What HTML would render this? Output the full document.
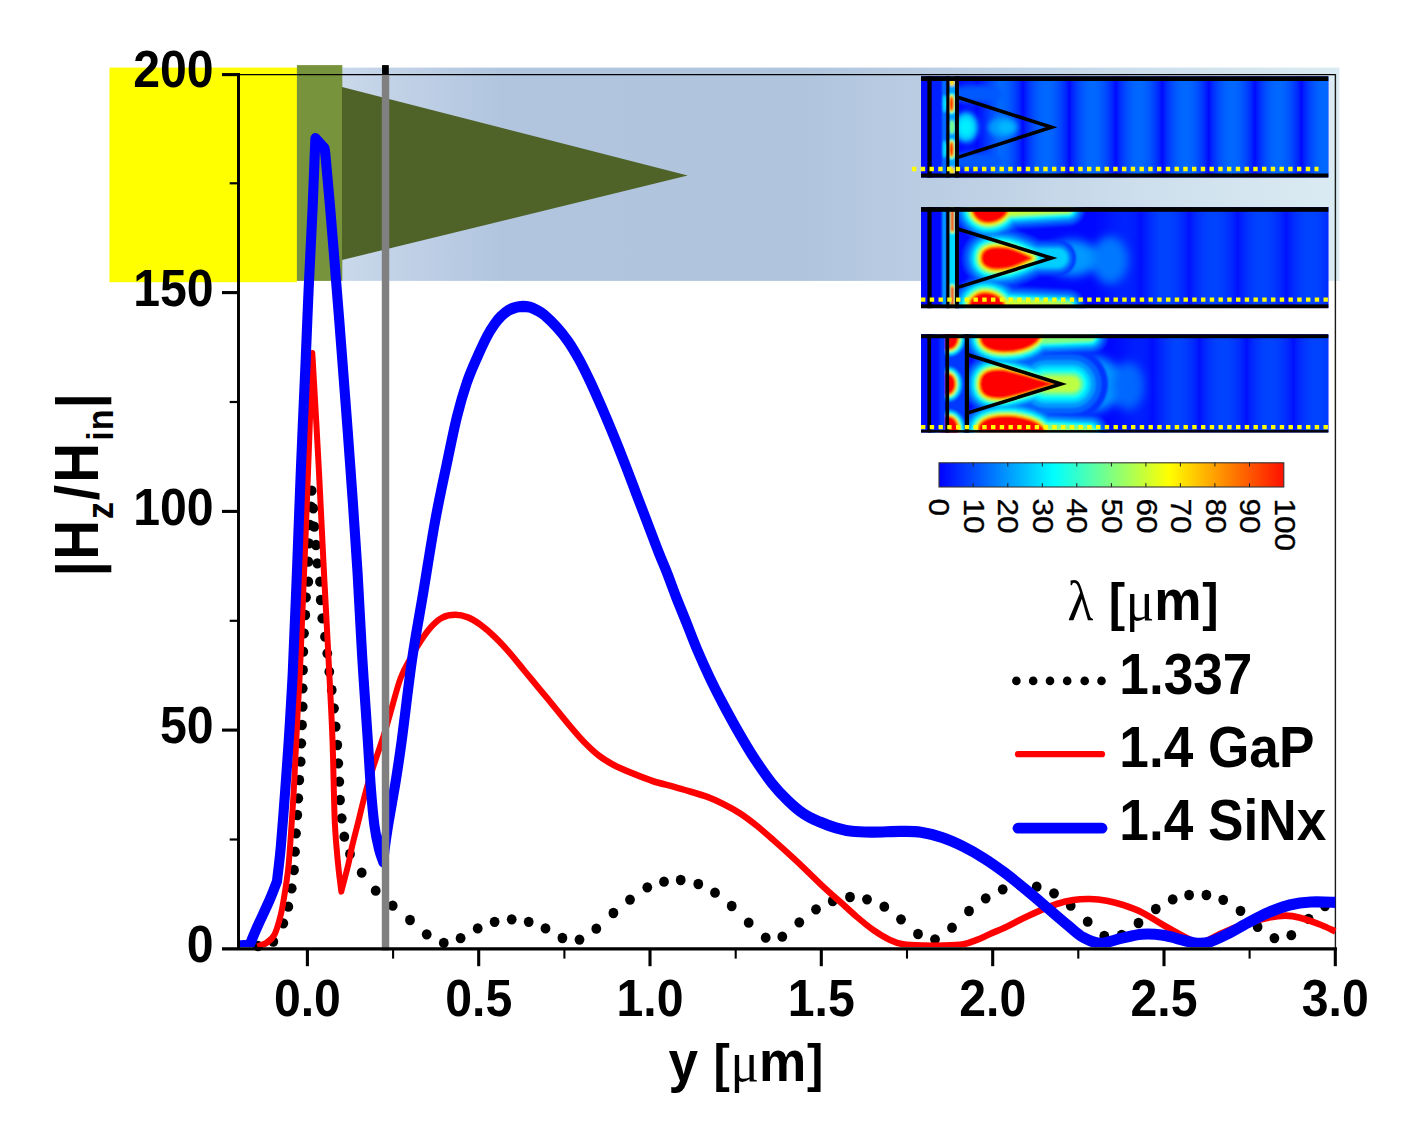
<!DOCTYPE html><html><head><meta charset="utf-8"><title>chart</title><style>
html,body{margin:0;padding:0;background:#fff}
svg{display:block}
text{font-family:"Liberation Sans",sans-serif;font-weight:bold;fill:#000}
.sym{font-family:"Liberation Serif",serif;font-weight:normal}
.cb{font-weight:normal;font-size:29px}
</style></head><body>
<svg width="1425" height="1125" viewBox="0 0 1425 1125">
<rect width="1425" height="1125" fill="#fff"/>
<defs>
<linearGradient id="bg" gradientUnits="userSpaceOnUse" x1="343" x2="1339.5"><stop offset="0" stop-color="#c9d8ea"/><stop offset="0.07" stop-color="#bfd0e6"/><stop offset="0.16" stop-color="#b1c5df"/><stop offset="0.46" stop-color="#b0c4de"/><stop offset="0.62" stop-color="#bccfe4"/><stop offset="0.8" stop-color="#cddfec"/><stop offset="1" stop-color="#dbebf3"/></linearGradient>
<linearGradient id="jet" x1="0" x2="1" y1="0" y2="0"><stop offset="0" stop-color="#0000ff"/><stop offset="0.333" stop-color="#00ffff"/><stop offset="0.5" stop-color="#80ff80"/><stop offset="0.667" stop-color="#ffff00"/><stop offset="1" stop-color="#ff1000"/></linearGradient>
</defs>
<rect x="109.5" y="67.6" width="187.5" height="214.6" fill="#ffff00"/>
<rect x="342" y="67.6" width="997.5" height="213.3" fill="url(#bg)"/>
<rect x="296.9" y="65.1" width="45.4" height="215.8" fill="#77933c"/>
<path d="M342 87L687.7 175.6L342 260Z" fill="#4f6228"/>
<path d="M238 74.5H1336" stroke="#000" stroke-width="1.25" fill="none"/>
<path d="M1335.4 74V948" stroke="#1a1a1a" stroke-width="1.4" fill="none"/>
<defs><filter id="bl" filterUnits="userSpaceOnUse" x="880" y="40" width="480" height="420"><feGaussianBlur stdDeviation="0.8"/></filter><filter id="bl3" filterUnits="userSpaceOnUse" x="880" y="40" width="480" height="420"><feGaussianBlur stdDeviation="5"/></filter><filter id="bl2" filterUnits="userSpaceOnUse" x="880" y="40" width="480" height="420"><feGaussianBlur stdDeviation="2.5"/></filter></defs><g><clipPath id="hc1"><rect x="921" y="76.3" width="407.3" height="101.2"/></clipPath><g clip-path="url(#hc1)"><rect x="921" y="76.3" width="410" height="101.2" fill="#0000ff"/><linearGradient id="sg1" gradientUnits="userSpaceOnUse" x1="1023" x2="1069.4" spreadMethod="repeat"><stop offset="0%" stop-color="#0008ff"/><stop offset="5%" stop-color="#001eff"/><stop offset="10%" stop-color="#002eff"/><stop offset="15%" stop-color="#003bff"/><stop offset="20%" stop-color="#0047ff"/><stop offset="25%" stop-color="#0051ff"/><stop offset="30%" stop-color="#0059ff"/><stop offset="35%" stop-color="#0060ff"/><stop offset="40%" stop-color="#0064ff"/><stop offset="45%" stop-color="#0067ff"/><stop offset="50%" stop-color="#0068ff"/><stop offset="55%" stop-color="#0067ff"/><stop offset="60%" stop-color="#0064ff"/><stop offset="65%" stop-color="#0060ff"/><stop offset="70%" stop-color="#0059ff"/><stop offset="75%" stop-color="#0051ff"/><stop offset="80%" stop-color="#0047ff"/><stop offset="85%" stop-color="#003bff"/><stop offset="90%" stop-color="#002eff"/><stop offset="95%" stop-color="#001eff"/><stop offset="100%" stop-color="#0008ff"/></linearGradient><rect x="921" y="76.3" width="420" height="101.2" fill="url(#sg1)"/><linearGradient id="fd1" gradientUnits="userSpaceOnUse" x1="960" x2="1000"><stop offset="0" stop-color="#0008ff" stop-opacity="1"/><stop offset="1" stop-color="#0008ff" stop-opacity="0"/></linearGradient><rect x="921" y="76.3" width="79" height="101.2" fill="url(#fd1)"/><rect x="932" y="76.3" width="14" height="101.2" fill="#0020ff"/><g filter="url(#bl2)"><ellipse cx="975" cy="94" rx="28" ry="9" fill="#0058ff"/><ellipse cx="975" cy="161" rx="28" ry="9" fill="#0058ff"/><ellipse cx="1003" cy="127.3" rx="15" ry="10" fill="#0098ff"/><ellipse cx="1006" cy="127.3" rx="8" ry="6" fill="#00b8ff"/><ellipse cx="966" cy="127.3" rx="12" ry="15" fill="#00c8ff"/><ellipse cx="966" cy="127.3" rx="7" ry="9" fill="#00f0ff"/></g><g filter="url(#bl)"><rect x="942" y="76.3" width="4.5" height="101.2" fill="#0070ff"/><rect x="948" y="76.3" width="9" height="101.2" fill="#00a0ff"/><path d="M950 103.7a1.5 7 0 1 0 3 0a1.5 7 0 1 0 -3 0z" fill="#00fcff" stroke="#00fcff" stroke-width="6.9" stroke-linejoin="round" stroke-linecap="round"/><path d="M950 103.7a1.5 7 0 1 0 3 0a1.5 7 0 1 0 -3 0z" fill="#43ffbd" stroke="#43ffbd" stroke-width="5.4" stroke-linejoin="round" stroke-linecap="round"/><path d="M950 103.7a1.5 7 0 1 0 3 0a1.5 7 0 1 0 -3 0z" fill="#80ff80" stroke="#80ff80" stroke-width="4.3" stroke-linejoin="round" stroke-linecap="round"/><path d="M950 103.7a1.5 7 0 1 0 3 0a1.5 7 0 1 0 -3 0z" fill="#bdff43" stroke="#bdff43" stroke-width="3.4" stroke-linejoin="round" stroke-linecap="round"/><path d="M950 103.7a1.5 7 0 1 0 3 0a1.5 7 0 1 0 -3 0z" fill="#fffc00" stroke="#fffc00" stroke-width="2.4" stroke-linejoin="round" stroke-linecap="round"/><path d="M950 103.7a1.5 7 0 1 0 3 0a1.5 7 0 1 0 -3 0z" fill="#ffa800" stroke="#ffa800" stroke-width="1.6" stroke-linejoin="round" stroke-linecap="round"/><path d="M950 103.7a1.5 7 0 1 0 3 0a1.5 7 0 1 0 -3 0z" fill="#ff4c00" stroke="#ff4c00" stroke-width="0.8" stroke-linejoin="round" stroke-linecap="round"/><path d="M950 103.7a1.5 7 0 1 0 3 0a1.5 7 0 1 0 -3 0z" fill="#ff0000"/><ellipse cx="944.5" cy="103.7" rx="2" ry="9" fill="#00e0ff"/><path d="M950 149.2a1.5 7 0 1 0 3 0a1.5 7 0 1 0 -3 0z" fill="#00fcff" stroke="#00fcff" stroke-width="6.9" stroke-linejoin="round" stroke-linecap="round"/><path d="M950 149.2a1.5 7 0 1 0 3 0a1.5 7 0 1 0 -3 0z" fill="#43ffbd" stroke="#43ffbd" stroke-width="5.4" stroke-linejoin="round" stroke-linecap="round"/><path d="M950 149.2a1.5 7 0 1 0 3 0a1.5 7 0 1 0 -3 0z" fill="#80ff80" stroke="#80ff80" stroke-width="4.3" stroke-linejoin="round" stroke-linecap="round"/><path d="M950 149.2a1.5 7 0 1 0 3 0a1.5 7 0 1 0 -3 0z" fill="#bdff43" stroke="#bdff43" stroke-width="3.4" stroke-linejoin="round" stroke-linecap="round"/><path d="M950 149.2a1.5 7 0 1 0 3 0a1.5 7 0 1 0 -3 0z" fill="#fffc00" stroke="#fffc00" stroke-width="2.4" stroke-linejoin="round" stroke-linecap="round"/><path d="M950 149.2a1.5 7 0 1 0 3 0a1.5 7 0 1 0 -3 0z" fill="#ffa800" stroke="#ffa800" stroke-width="1.6" stroke-linejoin="round" stroke-linecap="round"/><path d="M950 149.2a1.5 7 0 1 0 3 0a1.5 7 0 1 0 -3 0z" fill="#ff4c00" stroke="#ff4c00" stroke-width="0.8" stroke-linejoin="round" stroke-linecap="round"/><path d="M950 149.2a1.5 7 0 1 0 3 0a1.5 7 0 1 0 -3 0z" fill="#ff0000"/><ellipse cx="944.5" cy="149.2" rx="2" ry="9" fill="#00e0ff"/><ellipse cx="952" cy="127" rx="3" ry="7" fill="#70ff90"/><ellipse cx="952" cy="82" rx="3" ry="4" fill="#ffe000"/><ellipse cx="952" cy="171" rx="3" ry="4" fill="#ffe000"/></g></g><rect x="921" y="76.3" width="407.3" height="4.7" fill="#000"/><rect x="921" y="173.5" width="407.3" height="4" fill="#000"/><rect x="927.4" y="76.3" width="4.2" height="101.2" fill="#000"/><rect x="946.3" y="76.3" width="3.1" height="101.2" fill="#000"/><rect x="955" y="76.3" width="3.9" height="101.2" fill="#000"/><path d="M957 97L1051.5 127.3L957 157.6" fill="none" stroke="#000" stroke-width="3.6" stroke-linejoin="miter"/><path d="M912 169H1318.5" stroke="#ffff00" stroke-width="4.3" stroke-dasharray="4.4 4.35" fill="none"/></g><g><clipPath id="hc2"><rect x="921" y="207.1" width="407.3" height="101.1"/></clipPath><g clip-path="url(#hc2)"><rect x="921" y="207.1" width="410" height="101.1" fill="#0000ff"/><linearGradient id="sg2" gradientUnits="userSpaceOnUse" x1="1140.7" x2="1189.2" spreadMethod="repeat"><stop offset="0%" stop-color="#0010ff"/><stop offset="5%" stop-color="#001cff"/><stop offset="10%" stop-color="#0024ff"/><stop offset="15%" stop-color="#002cff"/><stop offset="20%" stop-color="#0032ff"/><stop offset="25%" stop-color="#0037ff"/><stop offset="30%" stop-color="#003cff"/><stop offset="35%" stop-color="#003fff"/><stop offset="40%" stop-color="#0042ff"/><stop offset="45%" stop-color="#0043ff"/><stop offset="50%" stop-color="#0044ff"/><stop offset="55%" stop-color="#0043ff"/><stop offset="60%" stop-color="#0042ff"/><stop offset="65%" stop-color="#003fff"/><stop offset="70%" stop-color="#003cff"/><stop offset="75%" stop-color="#0037ff"/><stop offset="80%" stop-color="#0032ff"/><stop offset="85%" stop-color="#002cff"/><stop offset="90%" stop-color="#0024ff"/><stop offset="95%" stop-color="#001cff"/><stop offset="100%" stop-color="#0010ff"/></linearGradient><rect x="921" y="207.1" width="420" height="101.1" fill="url(#sg2)"/><linearGradient id="fd2" gradientUnits="userSpaceOnUse" x1="1090" x2="1160"><stop offset="0" stop-color="#0008ff" stop-opacity="1"/><stop offset="1" stop-color="#0008ff" stop-opacity="0"/></linearGradient><rect x="921" y="207.1" width="239" height="101.1" fill="url(#fd2)"/><g filter="url(#bl3)"><ellipse cx="1072" cy="258.1" rx="26" ry="18" fill="#0098ff"/><ellipse cx="1110" cy="260.1" rx="18" ry="24" fill="#0078ff"/></g><g filter="url(#bl)"><path d="M998 209.1H1068L998 213.1Z" fill="#0036ff" stroke="#0036ff" stroke-width="34" stroke-linejoin="round" stroke-linecap="round"/><path d="M973 209.1H1007C1007 216.1 997 222.1 988 222.1C980 222.1 973 216.1 973 209.1Z" fill="#0036ff" stroke="#0036ff" stroke-width="38" stroke-linejoin="round" stroke-linecap="round"/><path d="M995 306.2H1068L995 302.2Z" fill="#0036ff" stroke="#0036ff" stroke-width="34" stroke-linejoin="round" stroke-linecap="round"/><path d="M970 306.2H1004C1004 299.2 994 293.2 985 293.2C977 293.2 970 299.2 970 306.2Z" fill="#0036ff" stroke="#0036ff" stroke-width="38" stroke-linejoin="round" stroke-linecap="round"/><path d="M1030 258.1H1058" fill="none" stroke="#0036ff" stroke-width="36" stroke-linejoin="round" stroke-linecap="round"/><path d="M982 258.1 C982 247.1 996 246.6 1008 248.6 C1018 251.1 1026 255.6 1031 258.1 C1026 260.6 1018 265.1 1008 267.6 C996 269.6 982 269.1 982 258.1Z" fill="#0036ff" stroke="#0036ff" stroke-width="40" stroke-linejoin="round" stroke-linecap="round"/><path d="M998 209.1H1068L998 213.1Z" fill="#0063ff" stroke="#0063ff" stroke-width="27.9" stroke-linejoin="round" stroke-linecap="round"/><path d="M973 209.1H1007C1007 216.1 997 222.1 988 222.1C980 222.1 973 216.1 973 209.1Z" fill="#0063ff" stroke="#0063ff" stroke-width="31.2" stroke-linejoin="round" stroke-linecap="round"/><path d="M995 306.2H1068L995 302.2Z" fill="#0063ff" stroke="#0063ff" stroke-width="27.9" stroke-linejoin="round" stroke-linecap="round"/><path d="M970 306.2H1004C1004 299.2 994 293.2 985 293.2C977 293.2 970 299.2 970 306.2Z" fill="#0063ff" stroke="#0063ff" stroke-width="31.2" stroke-linejoin="round" stroke-linecap="round"/><path d="M1030 258.1H1058" fill="none" stroke="#0063ff" stroke-width="29.5" stroke-linejoin="round" stroke-linecap="round"/><path d="M982 258.1 C982 247.1 996 246.6 1008 248.6 C1018 251.1 1026 255.6 1031 258.1 C1026 260.6 1018 265.1 1008 267.6 C996 269.6 982 269.1 982 258.1Z" fill="#0063ff" stroke="#0063ff" stroke-width="32.8" stroke-linejoin="round" stroke-linecap="round"/><path d="M998 209.1H1068L998 213.1Z" fill="#0099ff" stroke="#0099ff" stroke-width="22.4" stroke-linejoin="round" stroke-linecap="round"/><path d="M973 209.1H1007C1007 216.1 997 222.1 988 222.1C980 222.1 973 216.1 973 209.1Z" fill="#0099ff" stroke="#0099ff" stroke-width="25.1" stroke-linejoin="round" stroke-linecap="round"/><path d="M995 306.2H1068L995 302.2Z" fill="#0099ff" stroke="#0099ff" stroke-width="22.4" stroke-linejoin="round" stroke-linecap="round"/><path d="M970 306.2H1004C1004 299.2 994 293.2 985 293.2C977 293.2 970 299.2 970 306.2Z" fill="#0099ff" stroke="#0099ff" stroke-width="25.1" stroke-linejoin="round" stroke-linecap="round"/><path d="M1030 258.1H1058" fill="none" stroke="#0099ff" stroke-width="23.8" stroke-linejoin="round" stroke-linecap="round"/><path d="M982 258.1 C982 247.1 996 246.6 1008 248.6 C1018 251.1 1026 255.6 1031 258.1 C1026 260.6 1018 265.1 1008 267.6 C996 269.6 982 269.1 982 258.1Z" fill="#0099ff" stroke="#0099ff" stroke-width="26.4" stroke-linejoin="round" stroke-linecap="round"/><path d="M998 209.1H1068L998 213.1Z" fill="#00cfff" stroke="#00cfff" stroke-width="18" stroke-linejoin="round" stroke-linecap="round"/><path d="M973 209.1H1007C1007 216.1 997 222.1 988 222.1C980 222.1 973 216.1 973 209.1Z" fill="#00cfff" stroke="#00cfff" stroke-width="20.1" stroke-linejoin="round" stroke-linecap="round"/><path d="M995 306.2H1068L995 302.2Z" fill="#00cfff" stroke="#00cfff" stroke-width="18" stroke-linejoin="round" stroke-linecap="round"/><path d="M970 306.2H1004C1004 299.2 994 293.2 985 293.2C977 293.2 970 299.2 970 306.2Z" fill="#00cfff" stroke="#00cfff" stroke-width="20.1" stroke-linejoin="round" stroke-linecap="round"/><path d="M1030 258.1H1058" fill="none" stroke="#00cfff" stroke-width="19.1" stroke-linejoin="round" stroke-linecap="round"/><path d="M982 258.1 C982 247.1 996 246.6 1008 248.6 C1018 251.1 1026 255.6 1031 258.1 C1026 260.6 1018 265.1 1008 267.6 C996 269.6 982 269.1 982 258.1Z" fill="#00cfff" stroke="#00cfff" stroke-width="21.2" stroke-linejoin="round" stroke-linecap="round"/><path d="M998 209.1H1068L998 213.1Z" fill="#00fcff" stroke="#00fcff" stroke-width="14.6" stroke-linejoin="round" stroke-linecap="round"/><path d="M973 209.1H1007C1007 216.1 997 222.1 988 222.1C980 222.1 973 216.1 973 209.1Z" fill="#00fcff" stroke="#00fcff" stroke-width="16.3" stroke-linejoin="round" stroke-linecap="round"/><path d="M995 306.2H1068L995 302.2Z" fill="#00fcff" stroke="#00fcff" stroke-width="14.6" stroke-linejoin="round" stroke-linecap="round"/><path d="M970 306.2H1004C1004 299.2 994 293.2 985 293.2C977 293.2 970 299.2 970 306.2Z" fill="#00fcff" stroke="#00fcff" stroke-width="16.3" stroke-linejoin="round" stroke-linecap="round"/><path d="M982 258.1 C982 247.1 996 246.6 1008 248.6 C1018 251.1 1026 255.6 1031 258.1 C1026 260.6 1018 265.1 1008 267.6 C996 269.6 982 269.1 982 258.1Z" fill="#00fcff" stroke="#00fcff" stroke-width="17.2" stroke-linejoin="round" stroke-linecap="round"/><path d="M998 209.1H1068L998 213.1Z" fill="#43ffbd" stroke="#43ffbd" stroke-width="11.6" stroke-linejoin="round" stroke-linecap="round"/><path d="M973 209.1H1007C1007 216.1 997 222.1 988 222.1C980 222.1 973 216.1 973 209.1Z" fill="#43ffbd" stroke="#43ffbd" stroke-width="12.9" stroke-linejoin="round" stroke-linecap="round"/><path d="M995 306.2H1068L995 302.2Z" fill="#43ffbd" stroke="#43ffbd" stroke-width="11.6" stroke-linejoin="round" stroke-linecap="round"/><path d="M970 306.2H1004C1004 299.2 994 293.2 985 293.2C977 293.2 970 299.2 970 306.2Z" fill="#43ffbd" stroke="#43ffbd" stroke-width="12.9" stroke-linejoin="round" stroke-linecap="round"/><path d="M982 258.1 C982 247.1 996 246.6 1008 248.6 C1018 251.1 1026 255.6 1031 258.1 C1026 260.6 1018 265.1 1008 267.6 C996 269.6 982 269.1 982 258.1Z" fill="#43ffbd" stroke="#43ffbd" stroke-width="13.6" stroke-linejoin="round" stroke-linecap="round"/><path d="M998 209.1H1068L998 213.1Z" fill="#80ff80" stroke="#80ff80" stroke-width="9.2" stroke-linejoin="round" stroke-linecap="round"/><path d="M973 209.1H1007C1007 216.1 997 222.1 988 222.1C980 222.1 973 216.1 973 209.1Z" fill="#80ff80" stroke="#80ff80" stroke-width="10.3" stroke-linejoin="round" stroke-linecap="round"/><path d="M995 306.2H1068L995 302.2Z" fill="#80ff80" stroke="#80ff80" stroke-width="9.2" stroke-linejoin="round" stroke-linecap="round"/><path d="M970 306.2H1004C1004 299.2 994 293.2 985 293.2C977 293.2 970 299.2 970 306.2Z" fill="#80ff80" stroke="#80ff80" stroke-width="10.3" stroke-linejoin="round" stroke-linecap="round"/><path d="M982 258.1 C982 247.1 996 246.6 1008 248.6 C1018 251.1 1026 255.6 1031 258.1 C1026 260.6 1018 265.1 1008 267.6 C996 269.6 982 269.1 982 258.1Z" fill="#80ff80" stroke="#80ff80" stroke-width="10.8" stroke-linejoin="round" stroke-linecap="round"/><path d="M998 209.1H1068L998 213.1Z" fill="#bdff43" stroke="#bdff43" stroke-width="7.1" stroke-linejoin="round" stroke-linecap="round"/><path d="M973 209.1H1007C1007 216.1 997 222.1 988 222.1C980 222.1 973 216.1 973 209.1Z" fill="#bdff43" stroke="#bdff43" stroke-width="8" stroke-linejoin="round" stroke-linecap="round"/><path d="M995 306.2H1068L995 302.2Z" fill="#bdff43" stroke="#bdff43" stroke-width="7.1" stroke-linejoin="round" stroke-linecap="round"/><path d="M970 306.2H1004C1004 299.2 994 293.2 985 293.2C977 293.2 970 299.2 970 306.2Z" fill="#bdff43" stroke="#bdff43" stroke-width="8" stroke-linejoin="round" stroke-linecap="round"/><path d="M982 258.1 C982 247.1 996 246.6 1008 248.6 C1018 251.1 1026 255.6 1031 258.1 C1026 260.6 1018 265.1 1008 267.6 C996 269.6 982 269.1 982 258.1Z" fill="#bdff43" stroke="#bdff43" stroke-width="8.4" stroke-linejoin="round" stroke-linecap="round"/><path d="M998 209.1H1068L998 213.1Z" fill="#dbff24"/><path d="M995 306.2H1068L995 302.2Z" fill="#dbff24"/><path d="M973 209.1H1007C1007 216.1 997 222.1 988 222.1C980 222.1 973 216.1 973 209.1Z" fill="#fffc00" stroke="#fffc00" stroke-width="5.7" stroke-linejoin="round" stroke-linecap="round"/><path d="M970 306.2H1004C1004 299.2 994 293.2 985 293.2C977 293.2 970 299.2 970 306.2Z" fill="#fffc00" stroke="#fffc00" stroke-width="5.7" stroke-linejoin="round" stroke-linecap="round"/><path d="M982 258.1 C982 247.1 996 246.6 1008 248.6 C1018 251.1 1026 255.6 1031 258.1 C1026 260.6 1018 265.1 1008 267.6 C996 269.6 982 269.1 982 258.1Z" fill="#fffc00" stroke="#fffc00" stroke-width="6" stroke-linejoin="round" stroke-linecap="round"/><path d="M973 209.1H1007C1007 216.1 997 222.1 988 222.1C980 222.1 973 216.1 973 209.1Z" fill="#ffa800" stroke="#ffa800" stroke-width="3.8" stroke-linejoin="round" stroke-linecap="round"/><path d="M970 306.2H1004C1004 299.2 994 293.2 985 293.2C977 293.2 970 299.2 970 306.2Z" fill="#ffa800" stroke="#ffa800" stroke-width="3.8" stroke-linejoin="round" stroke-linecap="round"/><path d="M982 258.1 C982 247.1 996 246.6 1008 248.6 C1018 251.1 1026 255.6 1031 258.1 C1026 260.6 1018 265.1 1008 267.6 C996 269.6 982 269.1 982 258.1Z" fill="#ffa800" stroke="#ffa800" stroke-width="4" stroke-linejoin="round" stroke-linecap="round"/><path d="M973 209.1H1007C1007 216.1 997 222.1 988 222.1C980 222.1 973 216.1 973 209.1Z" fill="#ff4c00" stroke="#ff4c00" stroke-width="1.9" stroke-linejoin="round" stroke-linecap="round"/><path d="M970 306.2H1004C1004 299.2 994 293.2 985 293.2C977 293.2 970 299.2 970 306.2Z" fill="#ff4c00" stroke="#ff4c00" stroke-width="1.9" stroke-linejoin="round" stroke-linecap="round"/><path d="M982 258.1 C982 247.1 996 246.6 1008 248.6 C1018 251.1 1026 255.6 1031 258.1 C1026 260.6 1018 265.1 1008 267.6 C996 269.6 982 269.1 982 258.1Z" fill="#ff4c00" stroke="#ff4c00" stroke-width="2" stroke-linejoin="round" stroke-linecap="round"/><path d="M973 209.1H1007C1007 216.1 997 222.1 988 222.1C980 222.1 973 216.1 973 209.1Z" fill="#ff0000"/><path d="M970 306.2H1004C1004 299.2 994 293.2 985 293.2C977 293.2 970 299.2 970 306.2Z" fill="#ff0000"/><path d="M982 258.1 C982 247.1 996 246.6 1008 248.6 C1018 251.1 1026 255.6 1031 258.1 C1026 260.6 1018 265.1 1008 267.6 C996 269.6 982 269.1 982 258.1Z" fill="#ff0000"/><rect x="942" y="207.1" width="4.5" height="101.1" fill="#00a0ff"/><rect x="948" y="207.1" width="9" height="101.1" fill="#00d8ff"/><path d="M952.3 208V231" fill="none" stroke="#43ffbd" stroke-width="6.1" stroke-linejoin="round" stroke-linecap="round"/><path d="M952.3 287V308" fill="none" stroke="#43ffbd" stroke-width="6.1" stroke-linejoin="round" stroke-linecap="round"/><path d="M952.3 208V231" fill="none" stroke="#80ff80" stroke-width="4.9" stroke-linejoin="round" stroke-linecap="round"/><path d="M952.3 287V308" fill="none" stroke="#80ff80" stroke-width="4.9" stroke-linejoin="round" stroke-linecap="round"/><path d="M952.3 208V231" fill="none" stroke="#bdff43" stroke-width="3.8" stroke-linejoin="round" stroke-linecap="round"/><path d="M952.3 287V308" fill="none" stroke="#bdff43" stroke-width="3.8" stroke-linejoin="round" stroke-linecap="round"/><path d="M952.3 208V231" fill="none" stroke="#fffc00" stroke-width="2.7" stroke-linejoin="round" stroke-linecap="round"/><path d="M952.3 287V308" fill="none" stroke="#fffc00" stroke-width="2.7" stroke-linejoin="round" stroke-linecap="round"/><path d="M952.3 208V231" fill="none" stroke="#ffa800" stroke-width="1.8" stroke-linejoin="round" stroke-linecap="round"/><path d="M952.3 287V308" fill="none" stroke="#ffa800" stroke-width="1.8" stroke-linejoin="round" stroke-linecap="round"/><path d="M952.3 208V231" fill="none" stroke="#ff4c00" stroke-width="0.9" stroke-linejoin="round" stroke-linecap="round"/><path d="M952.3 287V308" fill="none" stroke="#ff4c00" stroke-width="0.9" stroke-linejoin="round" stroke-linecap="round"/><path d="M952.3 208V231M952.3 287V308" stroke="#ff0000" stroke-width="3"/></g></g><rect x="921" y="207.1" width="407.3" height="4.7" fill="#000"/><rect x="921" y="304.4" width="407.3" height="3.8" fill="#000"/><rect x="927.4" y="207.1" width="4.2" height="101.1" fill="#000"/><rect x="946.3" y="207.1" width="3.1" height="101.1" fill="#000"/><rect x="955" y="207.1" width="3.9" height="101.1" fill="#000"/><path d="M957 228.7L1051.5 258.1L957 287.6" fill="none" stroke="#000" stroke-width="3.6" stroke-linejoin="miter"/><path d="M921 299.7H1329" stroke="#ffff00" stroke-width="4.3" stroke-dasharray="4.4 4.35" fill="none"/></g><g><clipPath id="hc3"><rect x="921" y="334.3" width="407.3" height="98.2"/></clipPath><g clip-path="url(#hc3)"><rect x="921" y="334.3" width="410" height="98.2" fill="#0000ff"/><linearGradient id="sg3" gradientUnits="userSpaceOnUse" x1="1152.5" x2="1199.5" spreadMethod="repeat"><stop offset="0%" stop-color="#0010ff"/><stop offset="5%" stop-color="#001cff"/><stop offset="10%" stop-color="#0024ff"/><stop offset="15%" stop-color="#002cff"/><stop offset="20%" stop-color="#0032ff"/><stop offset="25%" stop-color="#0037ff"/><stop offset="30%" stop-color="#003cff"/><stop offset="35%" stop-color="#003fff"/><stop offset="40%" stop-color="#0042ff"/><stop offset="45%" stop-color="#0043ff"/><stop offset="50%" stop-color="#0044ff"/><stop offset="55%" stop-color="#0043ff"/><stop offset="60%" stop-color="#0042ff"/><stop offset="65%" stop-color="#003fff"/><stop offset="70%" stop-color="#003cff"/><stop offset="75%" stop-color="#0037ff"/><stop offset="80%" stop-color="#0032ff"/><stop offset="85%" stop-color="#002cff"/><stop offset="90%" stop-color="#0024ff"/><stop offset="95%" stop-color="#001cff"/><stop offset="100%" stop-color="#0010ff"/></linearGradient><rect x="921" y="334.3" width="420" height="98.2" fill="url(#sg3)"/><linearGradient id="fd3" gradientUnits="userSpaceOnUse" x1="1110" x2="1175"><stop offset="0" stop-color="#0008ff" stop-opacity="1"/><stop offset="1" stop-color="#0008ff" stop-opacity="0"/></linearGradient><rect x="921" y="334.3" width="254" height="98.2" fill="url(#fd3)"/><g filter="url(#bl3)"><ellipse cx="1092" cy="384" rx="30" ry="28" fill="#0098ff"/><ellipse cx="1128" cy="386" rx="16" ry="24" fill="#0068ff"/></g><g filter="url(#bl)"><path d="M1046 384H1072" fill="none" stroke="#0036ff" stroke-width="72" stroke-linejoin="round" stroke-linecap="round"/><path d="M1020 336.3H1090L1020 339.3Z" fill="#0036ff" stroke="#0036ff" stroke-width="36" stroke-linejoin="round" stroke-linecap="round"/><path d="M981 336.3H1040C1036 345.3 1022.5 351.3 1004.5 351.3C987 351.3 980 344.3 981 336.3Z" fill="#0036ff" stroke="#0036ff" stroke-width="34" stroke-linejoin="round" stroke-linecap="round"/><path d="M1025 431.5H1090L1025 428.5Z" fill="#0036ff" stroke="#0036ff" stroke-width="36" stroke-linejoin="round" stroke-linecap="round"/><path d="M979 431.5H1045C1041 422.5 1024 416.5 1006 416.5C985 416.5 978 423.5 979 431.5Z" fill="#0036ff" stroke="#0036ff" stroke-width="34" stroke-linejoin="round" stroke-linecap="round"/><path d="M980.5 384 C980.5 371 992 369.5 1004 370.5 C1022 374 1040 381 1054 384 C1040 387 1022 394 1004 397.5 C992 398.5 980.5 397 980.5 384Z" fill="#0036ff" stroke="#0036ff" stroke-width="34" stroke-linejoin="round" stroke-linecap="round"/><path d="M1046 384H1072" fill="none" stroke="#0063ff" stroke-width="59" stroke-linejoin="round" stroke-linecap="round"/><path d="M1020 336.3H1090L1020 339.3Z" fill="#0063ff" stroke="#0063ff" stroke-width="29.5" stroke-linejoin="round" stroke-linecap="round"/><path d="M981 336.3H1040C1036 345.3 1022.5 351.3 1004.5 351.3C987 351.3 980 344.3 981 336.3Z" fill="#0063ff" stroke="#0063ff" stroke-width="27.9" stroke-linejoin="round" stroke-linecap="round"/><path d="M1025 431.5H1090L1025 428.5Z" fill="#0063ff" stroke="#0063ff" stroke-width="29.5" stroke-linejoin="round" stroke-linecap="round"/><path d="M979 431.5H1045C1041 422.5 1024 416.5 1006 416.5C985 416.5 978 423.5 979 431.5Z" fill="#0063ff" stroke="#0063ff" stroke-width="27.9" stroke-linejoin="round" stroke-linecap="round"/><path d="M980.5 384 C980.5 371 992 369.5 1004 370.5 C1022 374 1040 381 1054 384 C1040 387 1022 394 1004 397.5 C992 398.5 980.5 397 980.5 384Z" fill="#0063ff" stroke="#0063ff" stroke-width="27.9" stroke-linejoin="round" stroke-linecap="round"/><path d="M1046 384H1072" fill="none" stroke="#0099ff" stroke-width="47.5" stroke-linejoin="round" stroke-linecap="round"/><path d="M1020 336.3H1090L1020 339.3Z" fill="#0099ff" stroke="#0099ff" stroke-width="23.8" stroke-linejoin="round" stroke-linecap="round"/><path d="M981 336.3H1040C1036 345.3 1022.5 351.3 1004.5 351.3C987 351.3 980 344.3 981 336.3Z" fill="#0099ff" stroke="#0099ff" stroke-width="22.4" stroke-linejoin="round" stroke-linecap="round"/><path d="M1025 431.5H1090L1025 428.5Z" fill="#0099ff" stroke="#0099ff" stroke-width="23.8" stroke-linejoin="round" stroke-linecap="round"/><path d="M979 431.5H1045C1041 422.5 1024 416.5 1006 416.5C985 416.5 978 423.5 979 431.5Z" fill="#0099ff" stroke="#0099ff" stroke-width="22.4" stroke-linejoin="round" stroke-linecap="round"/><path d="M980.5 384 C980.5 371 992 369.5 1004 370.5 C1022 374 1040 381 1054 384 C1040 387 1022 394 1004 397.5 C992 398.5 980.5 397 980.5 384Z" fill="#0099ff" stroke="#0099ff" stroke-width="22.4" stroke-linejoin="round" stroke-linecap="round"/><path d="M1046 384H1072" fill="none" stroke="#00cfff" stroke-width="38.2" stroke-linejoin="round" stroke-linecap="round"/><path d="M1020 336.3H1090L1020 339.3Z" fill="#00cfff" stroke="#00cfff" stroke-width="19.1" stroke-linejoin="round" stroke-linecap="round"/><path d="M981 336.3H1040C1036 345.3 1022.5 351.3 1004.5 351.3C987 351.3 980 344.3 981 336.3Z" fill="#00cfff" stroke="#00cfff" stroke-width="18" stroke-linejoin="round" stroke-linecap="round"/><path d="M1025 431.5H1090L1025 428.5Z" fill="#00cfff" stroke="#00cfff" stroke-width="19.1" stroke-linejoin="round" stroke-linecap="round"/><path d="M979 431.5H1045C1041 422.5 1024 416.5 1006 416.5C985 416.5 978 423.5 979 431.5Z" fill="#00cfff" stroke="#00cfff" stroke-width="18" stroke-linejoin="round" stroke-linecap="round"/><path d="M980.5 384 C980.5 371 992 369.5 1004 370.5 C1022 374 1040 381 1054 384 C1040 387 1022 394 1004 397.5 C992 398.5 980.5 397 980.5 384Z" fill="#00cfff" stroke="#00cfff" stroke-width="18" stroke-linejoin="round" stroke-linecap="round"/><path d="M1046 384H1072" fill="none" stroke="#00fcff" stroke-width="31" stroke-linejoin="round" stroke-linecap="round"/><path d="M1020 336.3H1090L1020 339.3Z" fill="#00fcff" stroke="#00fcff" stroke-width="15.5" stroke-linejoin="round" stroke-linecap="round"/><path d="M981 336.3H1040C1036 345.3 1022.5 351.3 1004.5 351.3C987 351.3 980 344.3 981 336.3Z" fill="#00fcff" stroke="#00fcff" stroke-width="14.6" stroke-linejoin="round" stroke-linecap="round"/><path d="M1025 431.5H1090L1025 428.5Z" fill="#00fcff" stroke="#00fcff" stroke-width="15.5" stroke-linejoin="round" stroke-linecap="round"/><path d="M979 431.5H1045C1041 422.5 1024 416.5 1006 416.5C985 416.5 978 423.5 979 431.5Z" fill="#00fcff" stroke="#00fcff" stroke-width="14.6" stroke-linejoin="round" stroke-linecap="round"/><path d="M980.5 384 C980.5 371 992 369.5 1004 370.5 C1022 374 1040 381 1054 384 C1040 387 1022 394 1004 397.5 C992 398.5 980.5 397 980.5 384Z" fill="#00fcff" stroke="#00fcff" stroke-width="14.6" stroke-linejoin="round" stroke-linecap="round"/><path d="M1046 384H1072" fill="none" stroke="#43ffbd" stroke-width="24.5" stroke-linejoin="round" stroke-linecap="round"/><path d="M1020 336.3H1090L1020 339.3Z" fill="#43ffbd" stroke="#43ffbd" stroke-width="12.2" stroke-linejoin="round" stroke-linecap="round"/><path d="M981 336.3H1040C1036 345.3 1022.5 351.3 1004.5 351.3C987 351.3 980 344.3 981 336.3Z" fill="#43ffbd" stroke="#43ffbd" stroke-width="11.6" stroke-linejoin="round" stroke-linecap="round"/><path d="M1025 431.5H1090L1025 428.5Z" fill="#43ffbd" stroke="#43ffbd" stroke-width="12.2" stroke-linejoin="round" stroke-linecap="round"/><path d="M979 431.5H1045C1041 422.5 1024 416.5 1006 416.5C985 416.5 978 423.5 979 431.5Z" fill="#43ffbd" stroke="#43ffbd" stroke-width="11.6" stroke-linejoin="round" stroke-linecap="round"/><path d="M980.5 384 C980.5 371 992 369.5 1004 370.5 C1022 374 1040 381 1054 384 C1040 387 1022 394 1004 397.5 C992 398.5 980.5 397 980.5 384Z" fill="#43ffbd" stroke="#43ffbd" stroke-width="11.6" stroke-linejoin="round" stroke-linecap="round"/><path d="M1046 384H1072" fill="none" stroke="#80ff80" stroke-width="19.4" stroke-linejoin="round" stroke-linecap="round"/><path d="M1020 336.3H1090L1020 339.3Z" fill="#80ff80" stroke="#80ff80" stroke-width="9.7" stroke-linejoin="round" stroke-linecap="round"/><path d="M981 336.3H1040C1036 345.3 1022.5 351.3 1004.5 351.3C987 351.3 980 344.3 981 336.3Z" fill="#80ff80" stroke="#80ff80" stroke-width="9.2" stroke-linejoin="round" stroke-linecap="round"/><path d="M1025 431.5H1090L1025 428.5Z" fill="#80ff80" stroke="#80ff80" stroke-width="9.7" stroke-linejoin="round" stroke-linecap="round"/><path d="M979 431.5H1045C1041 422.5 1024 416.5 1006 416.5C985 416.5 978 423.5 979 431.5Z" fill="#80ff80" stroke="#80ff80" stroke-width="9.2" stroke-linejoin="round" stroke-linecap="round"/><path d="M980.5 384 C980.5 371 992 369.5 1004 370.5 C1022 374 1040 381 1054 384 C1040 387 1022 394 1004 397.5 C992 398.5 980.5 397 980.5 384Z" fill="#80ff80" stroke="#80ff80" stroke-width="9.2" stroke-linejoin="round" stroke-linecap="round"/><path d="M1020 336.3H1090L1020 339.3Z" fill="#a6ff5a"/><path d="M1025 431.5H1090L1025 428.5Z" fill="#a6ff5a"/><path d="M1046 384H1072" fill="none" stroke="#bdff43" stroke-width="15.1" stroke-linejoin="round" stroke-linecap="round"/><path d="M981 336.3H1040C1036 345.3 1022.5 351.3 1004.5 351.3C987 351.3 980 344.3 981 336.3Z" fill="#bdff43" stroke="#bdff43" stroke-width="7.1" stroke-linejoin="round" stroke-linecap="round"/><path d="M979 431.5H1045C1041 422.5 1024 416.5 1006 416.5C985 416.5 978 423.5 979 431.5Z" fill="#bdff43" stroke="#bdff43" stroke-width="7.1" stroke-linejoin="round" stroke-linecap="round"/><path d="M980.5 384 C980.5 371 992 369.5 1004 370.5 C1022 374 1040 381 1054 384 C1040 387 1022 394 1004 397.5 C992 398.5 980.5 397 980.5 384Z" fill="#bdff43" stroke="#bdff43" stroke-width="7.1" stroke-linejoin="round" stroke-linecap="round"/><path d="M981 336.3H1040C1036 345.3 1022.5 351.3 1004.5 351.3C987 351.3 980 344.3 981 336.3Z" fill="#fffc00" stroke="#fffc00" stroke-width="5.1" stroke-linejoin="round" stroke-linecap="round"/><path d="M979 431.5H1045C1041 422.5 1024 416.5 1006 416.5C985 416.5 978 423.5 979 431.5Z" fill="#fffc00" stroke="#fffc00" stroke-width="5.1" stroke-linejoin="round" stroke-linecap="round"/><path d="M980.5 384 C980.5 371 992 369.5 1004 370.5 C1022 374 1040 381 1054 384 C1040 387 1022 394 1004 397.5 C992 398.5 980.5 397 980.5 384Z" fill="#fffc00" stroke="#fffc00" stroke-width="5.1" stroke-linejoin="round" stroke-linecap="round"/><path d="M981 336.3H1040C1036 345.3 1022.5 351.3 1004.5 351.3C987 351.3 980 344.3 981 336.3Z" fill="#ffa800" stroke="#ffa800" stroke-width="3.4" stroke-linejoin="round" stroke-linecap="round"/><path d="M979 431.5H1045C1041 422.5 1024 416.5 1006 416.5C985 416.5 978 423.5 979 431.5Z" fill="#ffa800" stroke="#ffa800" stroke-width="3.4" stroke-linejoin="round" stroke-linecap="round"/><path d="M980.5 384 C980.5 371 992 369.5 1004 370.5 C1022 374 1040 381 1054 384 C1040 387 1022 394 1004 397.5 C992 398.5 980.5 397 980.5 384Z" fill="#ffa800" stroke="#ffa800" stroke-width="3.4" stroke-linejoin="round" stroke-linecap="round"/><path d="M981 336.3H1040C1036 345.3 1022.5 351.3 1004.5 351.3C987 351.3 980 344.3 981 336.3Z" fill="#ff4c00" stroke="#ff4c00" stroke-width="1.7" stroke-linejoin="round" stroke-linecap="round"/><path d="M979 431.5H1045C1041 422.5 1024 416.5 1006 416.5C985 416.5 978 423.5 979 431.5Z" fill="#ff4c00" stroke="#ff4c00" stroke-width="1.7" stroke-linejoin="round" stroke-linecap="round"/><path d="M980.5 384 C980.5 371 992 369.5 1004 370.5 C1022 374 1040 381 1054 384 C1040 387 1022 394 1004 397.5 C992 398.5 980.5 397 980.5 384Z" fill="#ff4c00" stroke="#ff4c00" stroke-width="1.7" stroke-linejoin="round" stroke-linecap="round"/><path d="M981 336.3H1040C1036 345.3 1022.5 351.3 1004.5 351.3C987 351.3 980 344.3 981 336.3Z" fill="#ff0000"/><path d="M979 431.5H1045C1041 422.5 1024 416.5 1006 416.5C985 416.5 978 423.5 979 431.5Z" fill="#ff0000"/><path d="M980.5 384 C980.5 371 992 369.5 1004 370.5 C1022 374 1040 381 1054 384 C1040 387 1022 394 1004 397.5 C992 398.5 980.5 397 980.5 384Z" fill="#ff0000"/><rect x="947" y="334.3" width="20" height="98.2" fill="#0038ff"/><path d="M940 338a9 11 0 1 0 18 0a9 11 0 1 0 -18 0z" fill="#0099ff" stroke="#0099ff" stroke-width="14.5" stroke-linejoin="round" stroke-linecap="round"/><path d="M941 384a7 10 0 1 0 14 0a7 10 0 1 0 -14 0z" fill="#0099ff" stroke="#0099ff" stroke-width="14.5" stroke-linejoin="round" stroke-linecap="round"/><path d="M940 430a9 13 0 1 0 18 0a9 13 0 1 0 -18 0z" fill="#0099ff" stroke="#0099ff" stroke-width="14.5" stroke-linejoin="round" stroke-linecap="round"/><path d="M940 338a9 11 0 1 0 18 0a9 11 0 1 0 -18 0z" fill="#00cfff" stroke="#00cfff" stroke-width="11.7" stroke-linejoin="round" stroke-linecap="round"/><path d="M941 384a7 10 0 1 0 14 0a7 10 0 1 0 -14 0z" fill="#00cfff" stroke="#00cfff" stroke-width="11.7" stroke-linejoin="round" stroke-linecap="round"/><path d="M940 430a9 13 0 1 0 18 0a9 13 0 1 0 -18 0z" fill="#00cfff" stroke="#00cfff" stroke-width="11.7" stroke-linejoin="round" stroke-linecap="round"/><path d="M940 338a9 11 0 1 0 18 0a9 11 0 1 0 -18 0z" fill="#00fcff" stroke="#00fcff" stroke-width="9.5" stroke-linejoin="round" stroke-linecap="round"/><path d="M941 384a7 10 0 1 0 14 0a7 10 0 1 0 -14 0z" fill="#00fcff" stroke="#00fcff" stroke-width="9.5" stroke-linejoin="round" stroke-linecap="round"/><path d="M940 430a9 13 0 1 0 18 0a9 13 0 1 0 -18 0z" fill="#00fcff" stroke="#00fcff" stroke-width="9.5" stroke-linejoin="round" stroke-linecap="round"/><path d="M940 338a9 11 0 1 0 18 0a9 11 0 1 0 -18 0z" fill="#43ffbd" stroke="#43ffbd" stroke-width="7.5" stroke-linejoin="round" stroke-linecap="round"/><path d="M941 384a7 10 0 1 0 14 0a7 10 0 1 0 -14 0z" fill="#43ffbd" stroke="#43ffbd" stroke-width="7.5" stroke-linejoin="round" stroke-linecap="round"/><path d="M940 430a9 13 0 1 0 18 0a9 13 0 1 0 -18 0z" fill="#43ffbd" stroke="#43ffbd" stroke-width="7.5" stroke-linejoin="round" stroke-linecap="round"/><path d="M940 338a9 11 0 1 0 18 0a9 11 0 1 0 -18 0z" fill="#80ff80" stroke="#80ff80" stroke-width="5.9" stroke-linejoin="round" stroke-linecap="round"/><path d="M941 384a7 10 0 1 0 14 0a7 10 0 1 0 -14 0z" fill="#80ff80" stroke="#80ff80" stroke-width="5.9" stroke-linejoin="round" stroke-linecap="round"/><path d="M940 430a9 13 0 1 0 18 0a9 13 0 1 0 -18 0z" fill="#80ff80" stroke="#80ff80" stroke-width="5.9" stroke-linejoin="round" stroke-linecap="round"/><path d="M940 338a9 11 0 1 0 18 0a9 11 0 1 0 -18 0z" fill="#bdff43" stroke="#bdff43" stroke-width="4.6" stroke-linejoin="round" stroke-linecap="round"/><path d="M941 384a7 10 0 1 0 14 0a7 10 0 1 0 -14 0z" fill="#bdff43" stroke="#bdff43" stroke-width="4.6" stroke-linejoin="round" stroke-linecap="round"/><path d="M940 430a9 13 0 1 0 18 0a9 13 0 1 0 -18 0z" fill="#bdff43" stroke="#bdff43" stroke-width="4.6" stroke-linejoin="round" stroke-linecap="round"/><path d="M940 338a9 11 0 1 0 18 0a9 11 0 1 0 -18 0z" fill="#fffc00" stroke="#fffc00" stroke-width="3.3" stroke-linejoin="round" stroke-linecap="round"/><path d="M941 384a7 10 0 1 0 14 0a7 10 0 1 0 -14 0z" fill="#fffc00" stroke="#fffc00" stroke-width="3.3" stroke-linejoin="round" stroke-linecap="round"/><path d="M940 430a9 13 0 1 0 18 0a9 13 0 1 0 -18 0z" fill="#fffc00" stroke="#fffc00" stroke-width="3.3" stroke-linejoin="round" stroke-linecap="round"/><path d="M940 338a9 11 0 1 0 18 0a9 11 0 1 0 -18 0z" fill="#ffa800" stroke="#ffa800" stroke-width="2.2" stroke-linejoin="round" stroke-linecap="round"/><path d="M941 384a7 10 0 1 0 14 0a7 10 0 1 0 -14 0z" fill="#ffa800" stroke="#ffa800" stroke-width="2.2" stroke-linejoin="round" stroke-linecap="round"/><path d="M940 430a9 13 0 1 0 18 0a9 13 0 1 0 -18 0z" fill="#ffa800" stroke="#ffa800" stroke-width="2.2" stroke-linejoin="round" stroke-linecap="round"/><path d="M940 338a9 11 0 1 0 18 0a9 11 0 1 0 -18 0z" fill="#ff4c00" stroke="#ff4c00" stroke-width="1.1" stroke-linejoin="round" stroke-linecap="round"/><path d="M941 384a7 10 0 1 0 14 0a7 10 0 1 0 -14 0z" fill="#ff4c00" stroke="#ff4c00" stroke-width="1.1" stroke-linejoin="round" stroke-linecap="round"/><path d="M940 430a9 13 0 1 0 18 0a9 13 0 1 0 -18 0z" fill="#ff4c00" stroke="#ff4c00" stroke-width="1.1" stroke-linejoin="round" stroke-linecap="round"/><path d="M940 338a9 11 0 1 0 18 0a9 11 0 1 0 -18 0z" fill="#ff0000"/><path d="M941 384a7 10 0 1 0 14 0a7 10 0 1 0 -14 0z" fill="#ff0000"/><path d="M940 430a9 13 0 1 0 18 0a9 13 0 1 0 -18 0z" fill="#ff0000"/><rect x="930" y="334.3" width="16" height="98.2" fill="#0008ff"/><rect x="940" y="334.3" width="5.5" height="98.2" fill="#0038ff"/></g></g><rect x="921" y="334.3" width="407.3" height="3.9" fill="#000"/><rect x="921" y="430.1" width="407.3" height="2.4" fill="#000"/><rect x="927.4" y="334.3" width="3.7" height="98.2" fill="#000"/><rect x="945.4" y="334.3" width="3.7" height="98.2" fill="#000"/><rect x="964.8" y="334.3" width="4.2" height="98.2" fill="#000"/><path d="M967 354.5L1061 384L967 413.1" fill="none" stroke="#000" stroke-width="3.6" stroke-linejoin="miter"/><path d="M921 427.1H1329" stroke="#ffff00" stroke-width="4.3" stroke-dasharray="4.4 4.35" fill="none"/></g>
<rect x="939" y="462.8" width="344.8" height="24.2" fill="url(#jet)" stroke="#333" stroke-width="1.1"/>
<path d="M973.2 462.5v4M973.2 487.1v-4" stroke="#222" stroke-width="1"/>
<path d="M1007.8 462.5v4M1007.8 487.1v-4" stroke="#222" stroke-width="1"/>
<path d="M1042.3 462.5v4M1042.3 487.1v-4" stroke="#222" stroke-width="1"/>
<path d="M1076.8 462.5v4M1076.8 487.1v-4" stroke="#222" stroke-width="1"/>
<path d="M1111.4 462.5v4M1111.4 487.1v-4" stroke="#222" stroke-width="1"/>
<path d="M1145.9 462.5v4M1145.9 487.1v-4" stroke="#222" stroke-width="1"/>
<path d="M1180.4 462.5v4M1180.4 487.1v-4" stroke="#222" stroke-width="1"/>
<path d="M1214.9 462.5v4M1214.9 487.1v-4" stroke="#222" stroke-width="1"/>
<path d="M1249.5 462.5v4M1249.5 487.1v-4" stroke="#222" stroke-width="1"/>
<text class="cb" transform="translate(929.3 498.4) rotate(90) scale(1.09 1)" x="0" y="0" stroke="#000" stroke-width="0.3">0</text>
<text class="cb" transform="translate(963.8 498.4) rotate(90) scale(1.09 1)" x="0" y="0" stroke="#000" stroke-width="0.3">10</text>
<text class="cb" transform="translate(998.4 498.4) rotate(90) scale(1.09 1)" x="0" y="0" stroke="#000" stroke-width="0.3">20</text>
<text class="cb" transform="translate(1032.9 498.4) rotate(90) scale(1.09 1)" x="0" y="0" stroke="#000" stroke-width="0.3">30</text>
<text class="cb" transform="translate(1067.4 498.4) rotate(90) scale(1.09 1)" x="0" y="0" stroke="#000" stroke-width="0.3">40</text>
<text class="cb" transform="translate(1102 498.4) rotate(90) scale(1.09 1)" x="0" y="0" stroke="#000" stroke-width="0.3">50</text>
<text class="cb" transform="translate(1136.5 498.4) rotate(90) scale(1.09 1)" x="0" y="0" stroke="#000" stroke-width="0.3">60</text>
<text class="cb" transform="translate(1171 498.4) rotate(90) scale(1.09 1)" x="0" y="0" stroke="#000" stroke-width="0.3">70</text>
<text class="cb" transform="translate(1205.5 498.4) rotate(90) scale(1.09 1)" x="0" y="0" stroke="#000" stroke-width="0.3">80</text>
<text class="cb" transform="translate(1240.1 498.4) rotate(90) scale(1.09 1)" x="0" y="0" stroke="#000" stroke-width="0.3">90</text>
<text class="cb" transform="translate(1274.6 498.4) rotate(90) scale(1.09 1)" x="0" y="0" stroke="#000" stroke-width="0.3">100</text>
<g fill="#000">
<ellipse cx="258" cy="946" rx="4.9" ry="5.15"/>
<ellipse cx="273.3" cy="941.7" rx="4.9" ry="5.15"/>
<ellipse cx="283.3" cy="923.3" rx="4.9" ry="5.15"/>
<ellipse cx="288.3" cy="906.7" rx="4.9" ry="5.15"/>
<ellipse cx="291.7" cy="888.3" rx="4.9" ry="5.15"/>
<ellipse cx="294" cy="870" rx="4.9" ry="5.15"/>
<ellipse cx="295" cy="851.7" rx="4.9" ry="5.15"/>
<ellipse cx="296" cy="833.3" rx="4.9" ry="5.15"/>
<ellipse cx="297.3" cy="815" rx="4.9" ry="5.15"/>
<ellipse cx="298.3" cy="798.3" rx="4.9" ry="5.15"/>
<ellipse cx="299.3" cy="780" rx="4.9" ry="5.15"/>
<ellipse cx="300.7" cy="761.7" rx="4.9" ry="5.15"/>
<ellipse cx="301.3" cy="743.3" rx="4.9" ry="5.15"/>
<ellipse cx="302" cy="725" rx="4.9" ry="5.15"/>
<ellipse cx="302.7" cy="706.7" rx="4.9" ry="5.15"/>
<ellipse cx="302.7" cy="688.3" rx="4.9" ry="5.15"/>
<ellipse cx="303" cy="670" rx="4.9" ry="5.15"/>
<ellipse cx="303.3" cy="651.7" rx="4.9" ry="5.15"/>
<ellipse cx="304" cy="633.3" rx="4.9" ry="5.15"/>
<ellipse cx="305.3" cy="615" rx="4.9" ry="5.15"/>
<ellipse cx="306" cy="597.3" rx="4.9" ry="5.15"/>
<ellipse cx="308.3" cy="581.7" rx="4.9" ry="5.15"/>
<ellipse cx="308.3" cy="561.7" rx="4.9" ry="5.15"/>
<ellipse cx="309" cy="543.3" rx="4.9" ry="5.15"/>
<ellipse cx="310" cy="525" rx="4.9" ry="5.15"/>
<ellipse cx="311" cy="506.7" rx="4.9" ry="5.15"/>
<ellipse cx="311.7" cy="490.7" rx="4.9" ry="5.15"/>
<ellipse cx="313.3" cy="508.3" rx="4.9" ry="5.15"/>
<ellipse cx="314.3" cy="526.7" rx="4.9" ry="5.15"/>
<ellipse cx="316" cy="545" rx="4.9" ry="5.15"/>
<ellipse cx="317.3" cy="563.3" rx="4.9" ry="5.15"/>
<ellipse cx="320" cy="581.7" rx="4.9" ry="5.15"/>
<ellipse cx="320.7" cy="600" rx="4.9" ry="5.15"/>
<ellipse cx="322.3" cy="618.3" rx="4.9" ry="5.15"/>
<ellipse cx="325" cy="636.7" rx="4.9" ry="5.15"/>
<ellipse cx="327.3" cy="653.3" rx="4.9" ry="5.15"/>
<ellipse cx="329.3" cy="671.7" rx="4.9" ry="5.15"/>
<ellipse cx="331.7" cy="690" rx="4.9" ry="5.15"/>
<ellipse cx="334" cy="708.3" rx="4.9" ry="5.15"/>
<ellipse cx="335.7" cy="726.7" rx="4.9" ry="5.15"/>
<ellipse cx="337.3" cy="745" rx="4.9" ry="5.15"/>
<ellipse cx="338.3" cy="763.3" rx="4.9" ry="5.15"/>
<ellipse cx="339.3" cy="781.7" rx="4.9" ry="5.15"/>
<ellipse cx="340" cy="800" rx="4.9" ry="5.15"/>
<ellipse cx="341.7" cy="818.3" rx="4.9" ry="5.15"/>
<ellipse cx="344.3" cy="836.7" rx="4.9" ry="5.15"/>
<ellipse cx="350" cy="854" rx="4.9" ry="5.15"/>
<ellipse cx="361.7" cy="872.7" rx="4.9" ry="5.15"/>
<ellipse cx="375.7" cy="890.7" rx="4.9" ry="5.15"/>
<ellipse cx="392.7" cy="905.7" rx="4.9" ry="5.15"/>
<ellipse cx="410" cy="920" rx="4.9" ry="5.15"/>
<ellipse cx="426.7" cy="934.3" rx="4.9" ry="5.15"/>
<ellipse cx="443.8" cy="942.9" rx="4.9" ry="5.15"/>
<ellipse cx="460.6" cy="938.2" rx="4.9" ry="5.15"/>
<ellipse cx="477.7" cy="928.4" rx="4.9" ry="5.15"/>
<ellipse cx="494.6" cy="921.8" rx="4.9" ry="5.15"/>
<ellipse cx="511.7" cy="919.3" rx="4.9" ry="5.15"/>
<ellipse cx="528.7" cy="921.8" rx="4.9" ry="5.15"/>
<ellipse cx="545.5" cy="928.4" rx="4.9" ry="5.15"/>
<ellipse cx="562.4" cy="938" rx="4.9" ry="5.15"/>
<ellipse cx="579.5" cy="939.6" rx="4.9" ry="5.15"/>
<ellipse cx="596.3" cy="928.7" rx="4.9" ry="5.15"/>
<ellipse cx="613.4" cy="913" rx="4.9" ry="5.15"/>
<ellipse cx="630" cy="899.6" rx="4.9" ry="5.15"/>
<ellipse cx="647.3" cy="887.3" rx="4.9" ry="5.15"/>
<ellipse cx="664" cy="881.7" rx="4.9" ry="5.15"/>
<ellipse cx="680.7" cy="880" rx="4.9" ry="5.15"/>
<ellipse cx="698.3" cy="884" rx="4.9" ry="5.15"/>
<ellipse cx="715" cy="892.7" rx="4.9" ry="5.15"/>
<ellipse cx="731.7" cy="906" rx="4.9" ry="5.15"/>
<ellipse cx="748.7" cy="922.7" rx="4.9" ry="5.15"/>
<ellipse cx="765.7" cy="937.7" rx="4.9" ry="5.15"/>
<ellipse cx="782.3" cy="936.7" rx="4.9" ry="5.15"/>
<ellipse cx="799.3" cy="922.3" rx="4.9" ry="5.15"/>
<ellipse cx="816" cy="909.3" rx="4.9" ry="5.15"/>
<ellipse cx="832.7" cy="901" rx="4.9" ry="5.15"/>
<ellipse cx="850" cy="897" rx="4.9" ry="5.15"/>
<ellipse cx="867" cy="899.3" rx="4.9" ry="5.15"/>
<ellipse cx="884.3" cy="906.7" rx="4.9" ry="5.15"/>
<ellipse cx="901" cy="919.3" rx="4.9" ry="5.15"/>
<ellipse cx="918" cy="934" rx="4.9" ry="5.15"/>
<ellipse cx="935" cy="939.3" rx="4.9" ry="5.15"/>
<ellipse cx="952" cy="927.7" rx="4.9" ry="5.15"/>
<ellipse cx="969" cy="911" rx="4.9" ry="5.15"/>
<ellipse cx="985.7" cy="898.3" rx="4.9" ry="5.15"/>
<ellipse cx="1002.7" cy="889.3" rx="4.9" ry="5.15"/>
<ellipse cx="1020" cy="885" rx="4.9" ry="5.15"/>
<ellipse cx="1036.7" cy="886.7" rx="4.9" ry="5.15"/>
<ellipse cx="1054" cy="893.3" rx="4.9" ry="5.15"/>
<ellipse cx="1070.7" cy="905.7" rx="4.9" ry="5.15"/>
<ellipse cx="1087.7" cy="921.7" rx="4.9" ry="5.15"/>
<ellipse cx="1104.3" cy="936" rx="4.9" ry="5.15"/>
<ellipse cx="1121.7" cy="935" rx="4.9" ry="5.15"/>
<ellipse cx="1138.5" cy="923" rx="4.9" ry="5.15"/>
<ellipse cx="1155.8" cy="909" rx="4.9" ry="5.15"/>
<ellipse cx="1172.7" cy="899.4" rx="4.9" ry="5.15"/>
<ellipse cx="1189.1" cy="895" rx="4.9" ry="5.15"/>
<ellipse cx="1206.4" cy="895" rx="4.9" ry="5.15"/>
<ellipse cx="1223.2" cy="899.8" rx="4.9" ry="5.15"/>
<ellipse cx="1240.5" cy="910.8" rx="4.9" ry="5.15"/>
<ellipse cx="1257.6" cy="926.8" rx="4.9" ry="5.15"/>
<ellipse cx="1274.4" cy="938.1" rx="4.9" ry="5.15"/>
<ellipse cx="1291.3" cy="935.2" rx="4.9" ry="5.15"/>
<ellipse cx="1308.6" cy="918.8" rx="4.9" ry="5.15"/>
<ellipse cx="1325" cy="906.1" rx="4.9" ry="5.15"/>
</g>
<clipPath id="pc"><rect x="237" y="60" width="1100" height="887.3"/></clipPath>
<g clip-path="url(#pc)"><g transform="scale(1 1.1)">
<path d="M257.5 860.5C259 859.9 263.9 858.8 266.7 857C269.5 855.2 272.2 853.8 274.5 849.7C276.8 845.7 278.8 838.8 280.5 832.7C282.2 826.7 283.2 820.6 284.5 813.4C285.8 806.1 287.2 798.4 288.3 789.1C289.4 779.8 290.1 768.9 291 757.5C291.9 746.2 292.8 733.3 293.6 721.2C294.4 709.1 294.9 696.9 295.6 684.8C296.3 672.7 296.8 662.6 297.6 648.5C298.4 634.3 299 629.3 300.4 600C301.8 570.7 304.2 519.2 306.2 472.7C308.2 426.3 311.3 346.4 312.3 321.2C313.4 338.4 316.8 390.9 318.7 424.3C320.6 457.6 322.4 491.9 324 521.2C325.6 550.5 327.2 574.7 328.6 600C330 625.3 331.5 648.1 332.5 672.7C333.5 697.4 333.9 728.9 334.8 747.9C335.8 766.9 337.1 776.2 338.2 786.6C339.3 797 340.8 806.3 341.3 810.3C342.4 806.3 346.3 793.4 348.1 786.6C349.9 779.9 350.2 776.6 352 769.7C353.8 762.9 356.5 753.5 358.7 745.5C360.9 737.4 362.9 729.3 365.3 721.2C367.7 713.1 370.2 705.9 373.3 697C376.4 688.1 381.2 675.9 384 667.9C386.8 660 387.2 657.8 390 649.3C392.8 640.7 397 625.3 400.5 616.7C404 608.1 407.5 603.5 411 597.6C414.5 591.7 418.1 586.2 421.6 581.4C425.1 576.6 428.6 572.3 432.1 568.9C435.6 565.6 438.7 562.9 442.6 561.3C446.5 559.6 451.1 558.9 455.3 558.9C459.5 558.9 463.7 559.8 467.9 561.3C472.1 562.8 475.9 564.9 480.5 567.9C485.1 570.9 490.4 575.1 495.3 579.5C500.2 583.8 505.1 588.7 510 593.8C514.9 598.9 519.8 604.7 524.7 610.1C529.6 615.5 534.6 620.9 539.5 626.3C544.4 631.7 549.3 637.1 554.2 642.5C559.1 648 564 653.5 568.9 658.8C573.8 664.1 578.8 669.5 583.7 674.2C588.6 678.8 593.5 683.1 598.4 686.6C603.3 690.1 607.6 692.5 613.2 695.2C618.8 697.9 625.4 700.4 632.1 702.9C638.8 705.4 646.2 708.1 653.2 710.2C660.2 712.2 668.1 713.7 674.2 715.3C680.3 716.8 684.6 718 690 719.5C695.4 721 701.2 722.4 706.7 724.3C712.2 726.2 717.8 728.4 723.3 730.9C728.8 733.4 734.4 736.1 740 739.4C745.6 742.7 751.2 746.6 756.7 750.6C762.2 754.7 767.8 759.2 773.3 763.6C778.8 768.1 784.4 772.6 790 777.3C795.6 781.9 801.2 786.7 806.7 791.5C812.2 796.3 817.8 801.4 823.3 806.1C828.8 810.8 834.4 815.2 840 819.7C845.6 824.3 851.2 829.1 856.7 833.4C862.2 837.7 867.8 841.9 873.3 845.5C878.8 849 885 852.4 890 854.5C895 856.7 897.8 857.6 903.3 858.5C908.8 859.3 916.6 859.5 923.3 859.7C930 859.9 936.6 859.9 943.3 859.7C950 859.5 957.7 859.3 963.3 858.5C968.9 857.6 972.2 856.1 976.7 854.5C981.2 853 985 851.1 990 849.1C995 847.1 1001.2 844.8 1006.7 842.5C1012.2 840.1 1017.8 837.2 1023.3 834.8C1028.8 832.4 1034.4 830.1 1040 827.9C1045.6 825.7 1051.2 823.4 1056.7 821.8C1062.2 820.2 1067.8 818.9 1073.3 818.2C1078.8 817.4 1084.4 817.2 1090 817.3C1095.6 817.4 1101.2 817.9 1106.7 818.8C1112.2 819.7 1117.4 821 1123.3 822.7C1129.2 824.5 1135.4 826.4 1142.1 829.5C1148.8 832.5 1156.2 837.2 1163.2 840.9C1170.2 844.6 1178.2 848.6 1184.3 851.5C1190.4 854.5 1197.4 857.5 1200 858.6C1203 857.2 1211.3 852.9 1218 850C1224.7 847.1 1231.6 844 1240 841.4C1248.4 838.7 1260.9 835.8 1268.5 834.3C1276.1 832.8 1280.2 832.4 1285.4 832.4C1290.7 832.4 1294 832.8 1300 834.3C1306 835.7 1315.3 838.8 1321.2 840.9C1327.1 843 1333 845.8 1335.3 846.7" fill="none" stroke="#ff0000" stroke-width="6" stroke-linejoin="round"/>
<path d="M238.5 860C240.3 859.9 247.7 859.5 249.5 859.4C250.8 856.5 254 849.3 257.3 842.5C260.7 835.6 266.3 825.1 269.6 818.2C272.9 811.3 275.8 804 277 801.2C277.6 795.9 279.5 783.1 280.8 769.7C282.1 756.4 283.7 737.3 285 721.2C286.3 705 287.6 688.9 288.8 672.7C290 656.6 291.2 636.4 292 624.3C292.8 612.2 292.5 617.2 293.3 600C294.1 582.8 295.6 550.5 296.9 521.2C298.2 491.9 299.5 456.6 301 424.3C302.5 392 304.4 354 305.7 327.3C307 300.5 307.4 287 308.6 263.6C309.8 240.3 311.7 207.3 312.7 187.3C313.7 167.3 314.2 153.9 314.6 143.6C315.1 133.4 315.3 128.9 315.4 125.9C316.9 127.4 323 133.5 324.5 135C324.7 136.4 324.8 134.9 325.7 143.6C326.6 152.3 328.1 167.3 330 187.3C331.9 207.3 334.8 240.3 336.8 263.6C338.9 287 340.1 300.5 342.3 327.3C344.6 354 347.8 392 350.3 424.3C352.9 456.6 355.6 491.9 357.6 521.2C359.6 550.5 360.7 574.7 362.4 600C364.1 625.3 366.4 653 367.8 672.7C369.2 692.4 369.9 705.2 371 718.2C372.1 731.2 373.2 742 374.5 750.9C375.8 759.8 377.5 766.4 379 771.8C380.5 777.3 382.6 781.7 383.3 783.6C383.6 781.5 384 776.4 384.8 770.9C385.6 765.5 386.8 757.6 388 750.9C389.2 744.2 390.5 737.9 391.8 730.9C393.1 723.9 394.2 718.8 395.9 709.1C397.6 699.4 399.1 690.9 401.8 672.7C404.5 654.5 408.4 622.7 412 600C415.6 577.3 419.9 557.3 423.7 536.4C427.5 515.4 431.2 493.2 435 474.3C438.8 455.3 442.9 438.5 446.6 422.5C450.3 406.6 453.6 391.1 457 378.6C460.4 366.2 463.5 356.7 466.9 347.6C470.3 338.6 473.9 331.5 477.3 324.5C480.7 317.5 484.3 310.5 487.1 305.6C489.9 300.7 491.8 298.2 494.2 295.1C496.6 292 498.9 289.4 501.3 287.3C503.7 285.1 506 283.4 508.4 282.1C510.8 280.8 513.2 280 515.6 279.5C518 278.9 520.3 278.6 522.7 278.5C525.1 278.5 527.4 278.7 529.8 279.3C532.2 279.9 534.4 280.9 536.9 282.1C539.4 283.3 541.2 284 544.5 286.5C547.8 289.1 552.6 293.3 556.5 297.2C560.4 301.1 564.1 305.1 567.9 310.1C571.7 315 575.4 320.7 579.2 326.9C583 333.2 586.8 340.3 590.6 347.6C594.4 355 598.2 362.9 602 370.9C605.8 378.9 609.6 387.1 613.4 395.5C617.2 403.8 620.9 412.4 624.7 421.3C628.5 430.1 632.3 439.4 636.1 448.5C639.9 457.5 643.7 466.5 647.5 475.5C651.3 484.6 655.7 495.3 658.9 502.7C662.1 510.1 663.9 513.4 666.7 520C669.6 526.6 672.7 534.7 676 542.5C679.3 550.2 683.2 558.6 686.7 566.6C690.2 574.7 693.5 582.8 697.3 590.9C701.1 599 705.1 607.1 709.3 615.2C713.5 623.3 718 631.3 722.7 639.4C727.4 647.4 732.2 655.5 737.3 663.6C742.4 671.7 747.5 679.8 753.3 687.9C759.1 696 766.2 705.4 772 712.1C777.8 718.8 782.7 723.3 788 727.9C793.3 732.6 798.7 736.8 804 740C809.3 743.2 814.7 745.2 820 747.3C825.3 749.4 830.7 751.2 836 752.6C841.3 754 845.8 755.1 852 755.7C858.2 756.4 865.3 756.4 873.3 756.5C881.3 756.5 892 755.8 900 755.8C908 755.8 914 755.5 921 756.5C928 757.4 935.1 759.1 942.1 761.3C949.1 763.4 956.2 766.3 963.2 769.5C970.2 772.6 977.2 776.3 984.2 780.4C991.2 784.4 998.3 789 1005.3 793.8C1012.3 798.6 1019.3 803.8 1026.3 809.1C1033.3 814.3 1040.4 819.9 1047.4 825.4C1054.4 830.8 1062.4 837.2 1068.4 841.6C1074.4 846.1 1077.9 849.5 1083.2 852.2C1088.5 854.8 1093.7 857.4 1100 857.5C1106.3 857.7 1114 854.5 1121 853.1C1128 851.7 1135.1 849.7 1142.1 849.3C1149.1 848.8 1156.2 849.3 1163.2 850.3C1170.2 851.2 1178.6 853.8 1184.2 855C1189.8 856.2 1192.8 857.3 1197 857.5C1201.2 857.8 1204.6 857.7 1209.5 856.4C1214.4 855 1220.1 852.5 1226.4 849.6C1232.7 846.8 1240.5 842.5 1247.5 839.1C1254.5 835.7 1261.5 832.2 1268.5 829.5C1275.5 826.7 1282.6 824.3 1289.6 822.7C1296.6 821.2 1303.1 820.4 1310.7 820C1318.3 819.6 1331.2 820.2 1335.3 820.3" fill="none" stroke="#0000ff" stroke-width="10.1" stroke-linejoin="round"/>
</g></g>
<rect x="381.8" y="74.5" width="7.45" height="876" fill="#808080"/>
<rect x="382.05" y="65.1" width="6.75" height="9.7" fill="#000"/>
<path d="M238.5 73.1V950" stroke="#000" stroke-width="2.95" fill="none"/>
<path d="M222 948.9H1337" stroke="#000" stroke-width="3.4" fill="none"/>
<path d="M229.7 839.5H239" stroke="#000" stroke-width="2.2"/>
<path d="M222 730.1H239" stroke="#000" stroke-width="3.1"/>
<path d="M229.7 620.8H239" stroke="#000" stroke-width="2.2"/>
<path d="M222 511.4H239" stroke="#000" stroke-width="3.1"/>
<path d="M229.7 402H239" stroke="#000" stroke-width="2.2"/>
<path d="M222 292.6H239" stroke="#000" stroke-width="3.1"/>
<path d="M229.7 183.3H239" stroke="#000" stroke-width="2.2"/>
<path d="M222 74.6H239" stroke="#000" stroke-width="3.1"/>
<path d="M307.4 949V966.2" stroke="#000" stroke-width="3.1"/>
<path d="M393.1 949V958.6" stroke="#000" stroke-width="2.1"/>
<path d="M478.7 949V966.2" stroke="#000" stroke-width="3.1"/>
<path d="M564.4 949V958.6" stroke="#000" stroke-width="2.1"/>
<path d="M650 949V966.2" stroke="#000" stroke-width="3.1"/>
<path d="M735.7 949V958.6" stroke="#000" stroke-width="2.1"/>
<path d="M821.3 949V966.2" stroke="#000" stroke-width="3.1"/>
<path d="M907 949V958.6" stroke="#000" stroke-width="2.1"/>
<path d="M992.7 949V966.2" stroke="#000" stroke-width="3.1"/>
<path d="M1078.3 949V958.6" stroke="#000" stroke-width="2.1"/>
<path d="M1164 949V966.2" stroke="#000" stroke-width="3.1"/>
<path d="M1249.6 949V958.6" stroke="#000" stroke-width="2.1"/>
<path d="M1335.3 949V966.2" stroke="#000" stroke-width="3.1"/>
<text transform="translate(213.6 962.2) scale(1.0 1.065)" font-size="48.2" text-anchor="end">0</text>
<text transform="translate(213.6 743.4) scale(1.0 1.065)" font-size="48.2" text-anchor="end">50</text>
<text transform="translate(213.6 524.7) scale(1.0 1.065)" font-size="48.2" text-anchor="end">100</text>
<text transform="translate(213.6 305.9) scale(1.0 1.065)" font-size="48.2" text-anchor="end">150</text>
<text transform="translate(213.6 86.5) scale(1.0 1.065)" font-size="48.2" text-anchor="end">200</text>
<text transform="translate(307.4 1015.7) scale(1.0 1.065)" font-size="48.2" text-anchor="middle">0.0</text>
<text transform="translate(478.7 1015.7) scale(1.0 1.065)" font-size="48.2" text-anchor="middle">0.5</text>
<text transform="translate(650 1015.7) scale(1.0 1.065)" font-size="48.2" text-anchor="middle">1.0</text>
<text transform="translate(821.3 1015.7) scale(1.0 1.065)" font-size="48.2" text-anchor="middle">1.5</text>
<text transform="translate(992.7 1015.7) scale(1.0 1.065)" font-size="48.2" text-anchor="middle">2.0</text>
<text transform="translate(1164 1015.7) scale(1.0 1.065)" font-size="48.2" text-anchor="middle">2.5</text>
<text transform="translate(1335.3 1015.7) scale(1.0 1.065)" font-size="48.2" text-anchor="middle">3.0</text>
<text transform="translate(668.5 1081.3) scale(1.0 1.065)" font-size="53.2" text-anchor="start">y <tspan font-size="49" dx="0.7">[</tspan><tspan class="sym" dx="0.7">μ</tspan>m<tspan font-size="49" dx="0.7">]</tspan></text>
<text transform="translate(97.5 576.6) rotate(-90) scale(1 1.07)" font-size="55">|</text>
<text transform="translate(97.5 559.7) rotate(-90) scale(1 1.13)" font-size="55">H</text>
<text transform="translate(113.2 519) rotate(-90) scale(1 1.065)" font-size="34">z</text>
<text transform="translate(97.5 500.2) rotate(-90) scale(1 1.1)" font-size="55">/</text>
<text transform="translate(97.5 482.8) rotate(-90) scale(1 1.13)" font-size="55">H</text>
<text transform="translate(113.2 440.7) rotate(-90) scale(1 1.065)" font-size="34">i<tspan dx="0.9">n</tspan></text>
<text transform="translate(97.5 408.6) rotate(-90) scale(1 1.07)" font-size="55">|</text>
<text transform="translate(1067.5 619.7) scale(1.0 1.065)" font-size="53.2" text-anchor="start"><tspan class="sym">λ</tspan> <tspan font-size="49" dx="0.7">[</tspan><tspan class="sym" dx="0.7">μ</tspan>m<tspan font-size="49" dx="0.7">]</tspan></text>
<text transform="translate(1119.3 693.5) scale(1.0 1.065)" font-size="53.2" text-anchor="start">1.337</text>
<text transform="translate(1119.3 766.8) scale(1.0 1.065)" font-size="53.2" text-anchor="start">1.4 GaP</text>
<text transform="translate(1119.3 840.1) scale(1.0 1.065)" font-size="53.2" text-anchor="start">1.4 SiNx</text>
<g fill="#000">
<circle cx="1016.4" cy="680.9" r="4.3"/>
<circle cx="1033.2" cy="680.9" r="4.3"/>
<circle cx="1050" cy="680.9" r="4.3"/>
<circle cx="1067.2" cy="680.9" r="4.3"/>
<circle cx="1084.7" cy="680.9" r="4.3"/>
<circle cx="1101.5" cy="680.9" r="4.3"/>
</g>
<path d="M1018 754.2H1102" stroke="#ff0000" stroke-width="6.2" stroke-linecap="round"/>
<path d="M1018 828.2H1102" stroke="#0000ff" stroke-width="10.8" stroke-linecap="round"/>
</svg></body></html>
